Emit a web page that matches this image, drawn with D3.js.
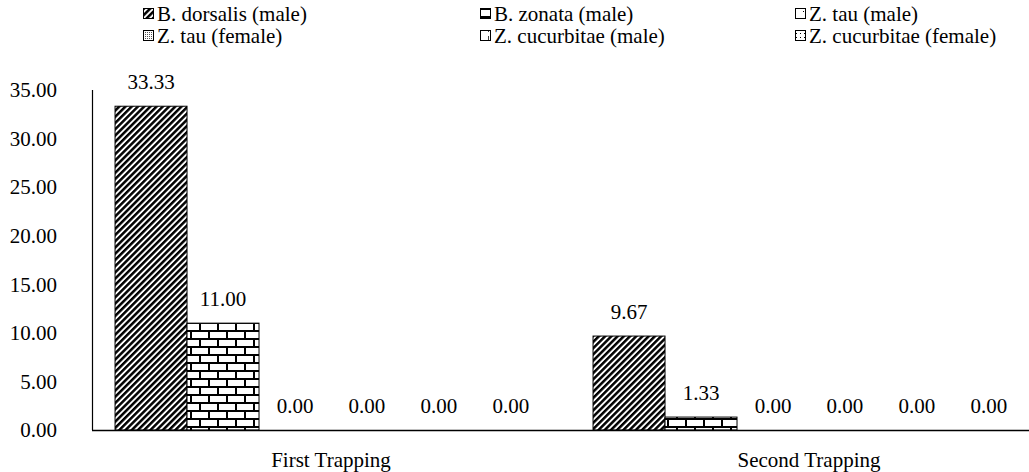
<!DOCTYPE html>
<html><head><meta charset="utf-8">
<script src="https://cdn.jsdelivr.net/npm/d3@7"></script>
<style>body{margin:0;background:#fff}svg{display:block}text{font-family:"Liberation Serif","Times New Roman",serif;fill:#000}</style>
</head><body><svg id="c" width="1029" height="472"></svg>
<script>
const categories = ["First Trapping", "Second Trapping"];
const series = ["B. dorsalis (male)", "B. zonata (male)", "Z. tau (male)", "Z. tau (female)", "Z. cucurbitae (male)", "Z. cucurbitae (female)"];
const bDorsalis = [33.33, 9.67];
const bZonata = [11.00, 1.33];
const zTauMale = [0, 0];
const zTauFemale = [0, 0];
const zCucMale = [0, 0];
const zCucFemale = [0, 0];
const yTicks = [0, 5, 10, 15, 20, 25, 30, 35];
const values = [bDorsalis, bZonata, zTauMale, zTauFemale, zCucMale, zCucFemale];

const svg = d3.select("#c");
const defs = svg.append("defs");

const p0 = defs.append("pattern").attr("id","p0").attr("patternUnits","userSpaceOnUse").attr("width",4.4).attr("height",4.4).attr("patternTransform","rotate(45)");
p0.append("rect").attr("width",4.4).attr("height",4.4).attr("fill","#fff");
p0.append("rect").attr("width",2.5).attr("height",4.4).attr("fill","#000");
const p1 = defs.append("pattern").attr("id","p1").attr("patternUnits","userSpaceOnUse").attr("width",36).attr("height",16).attr("x",-2).attr("y",2);
p1.append("rect").attr("width",36).attr("height",16).attr("fill","#fff");
p1.append("path").attr("d","M0,1H36M0,9H36M4,1V9M22,1V9M13,9V17M31,9V17").attr("stroke","#000").attr("stroke-width",2);
const p2 = defs.append("pattern").attr("id","p2").attr("patternUnits","userSpaceOnUse").attr("width",8).attr("height",8);
p2.append("rect").attr("width",8).attr("height",8).attr("fill","#fff");
p2.append("rect").attr("x",0).attr("y",5).attr("width",1).attr("height",1).attr("fill","#000");
const p3 = defs.append("pattern").attr("id","p3").attr("patternUnits","userSpaceOnUse").attr("width",2).attr("height",2);
p3.append("rect").attr("width",2).attr("height",2).attr("fill","#fff");
p3.append("rect").attr("width",1).attr("height",1).attr("fill","#555");
const p4 = defs.append("pattern").attr("id","p4").attr("patternUnits","userSpaceOnUse").attr("width",8).attr("height",8);
p4.append("rect").attr("width",8).attr("height",8).attr("fill","#fff");
p4.append("path").attr("d","M0,0V4").attr("stroke","#000").attr("stroke-width",1.5);
const p5 = defs.append("pattern").attr("id","p5").attr("patternUnits","userSpaceOnUse").attr("width",4).attr("height",4);
p5.append("rect").attr("width",4).attr("height",4).attr("fill","#fff");
p5.append("rect").attr("x",1).attr("y",1).attr("width",1).attr("height",1).attr("fill","#000");

const mLeft = 92, mTop = 90, mBottom = 430;
const FS = 21;
const y = d3.scaleLinear().domain([0,35]).range([mBottom, mTop]);
const x0 = d3.scaleBand().domain(categories).range([mLeft, 1048]);
const x1 = d3.scaleBand().domain(series).range([0, x0.bandwidth()]).paddingInner(0).paddingOuter(0.32);

const g = svg.append("g");
categories.forEach((c, ci) => {
  series.forEach((s, si) => {
    const v = values[si][ci];
    const bx = x0(c) + x1(s);
    if (v > 0) {
      g.append("rect").attr("x", bx).attr("y", y(v)).attr("width", x1.bandwidth()).attr("height", y(0) - y(v))
        .attr("fill", `url(#p${si})`).attr("stroke", "#000").attr("stroke-width", 1);
    }
    g.append("text").attr("x", bx + x1.bandwidth()/2).attr("y", y(v) - 17)
      .attr("text-anchor","middle").attr("font-size", FS).text(v.toFixed(2));
  });
});

const yAxis = svg.append("g").attr("transform", `translate(${mLeft},0)`)
  .call(d3.axisLeft(y).tickValues(yTicks).tickSize(0).tickPadding(35).tickFormat(d => d.toFixed(2)));
yAxis.select(".domain").attr("stroke","#000").attr("stroke-width",1.2).attr("d", `M0.5,${mTop}V${mBottom}`);
yAxis.selectAll("text").attr("font-size", FS).attr("font-family", '"Liberation Serif",serif');

const xAxis = svg.append("g").attr("transform", `translate(0,${mBottom})`)
  .call(d3.axisBottom(x0).tickSize(0).tickPadding(22));
xAxis.select(".domain").attr("stroke","#000").attr("stroke-width",1.5).attr("d", `M${mLeft},0.5H1029`);
xAxis.selectAll("text").attr("font-size", FS).attr("font-family", '"Liberation Serif",serif');

const legX = [143, 480, 795];
const legY = [14, 36];
series.forEach((s, i) => {
  const col = i % 3, row = Math.floor(i / 3);
  const lg = svg.append("g").attr("transform", `translate(${legX[col]},${legY[row]})`);
  lg.append("rect").attr("x", 0.5).attr("y", -5.5).attr("width", 10).attr("height", 10)
    .attr("fill", `url(#p${i})`).attr("stroke", "#000").attr("stroke-width", 1);
  lg.append("text").attr("x", 14).attr("y", 0).attr("dy","0.35em").attr("font-size", FS).text(s);
});
</script></body></html>
